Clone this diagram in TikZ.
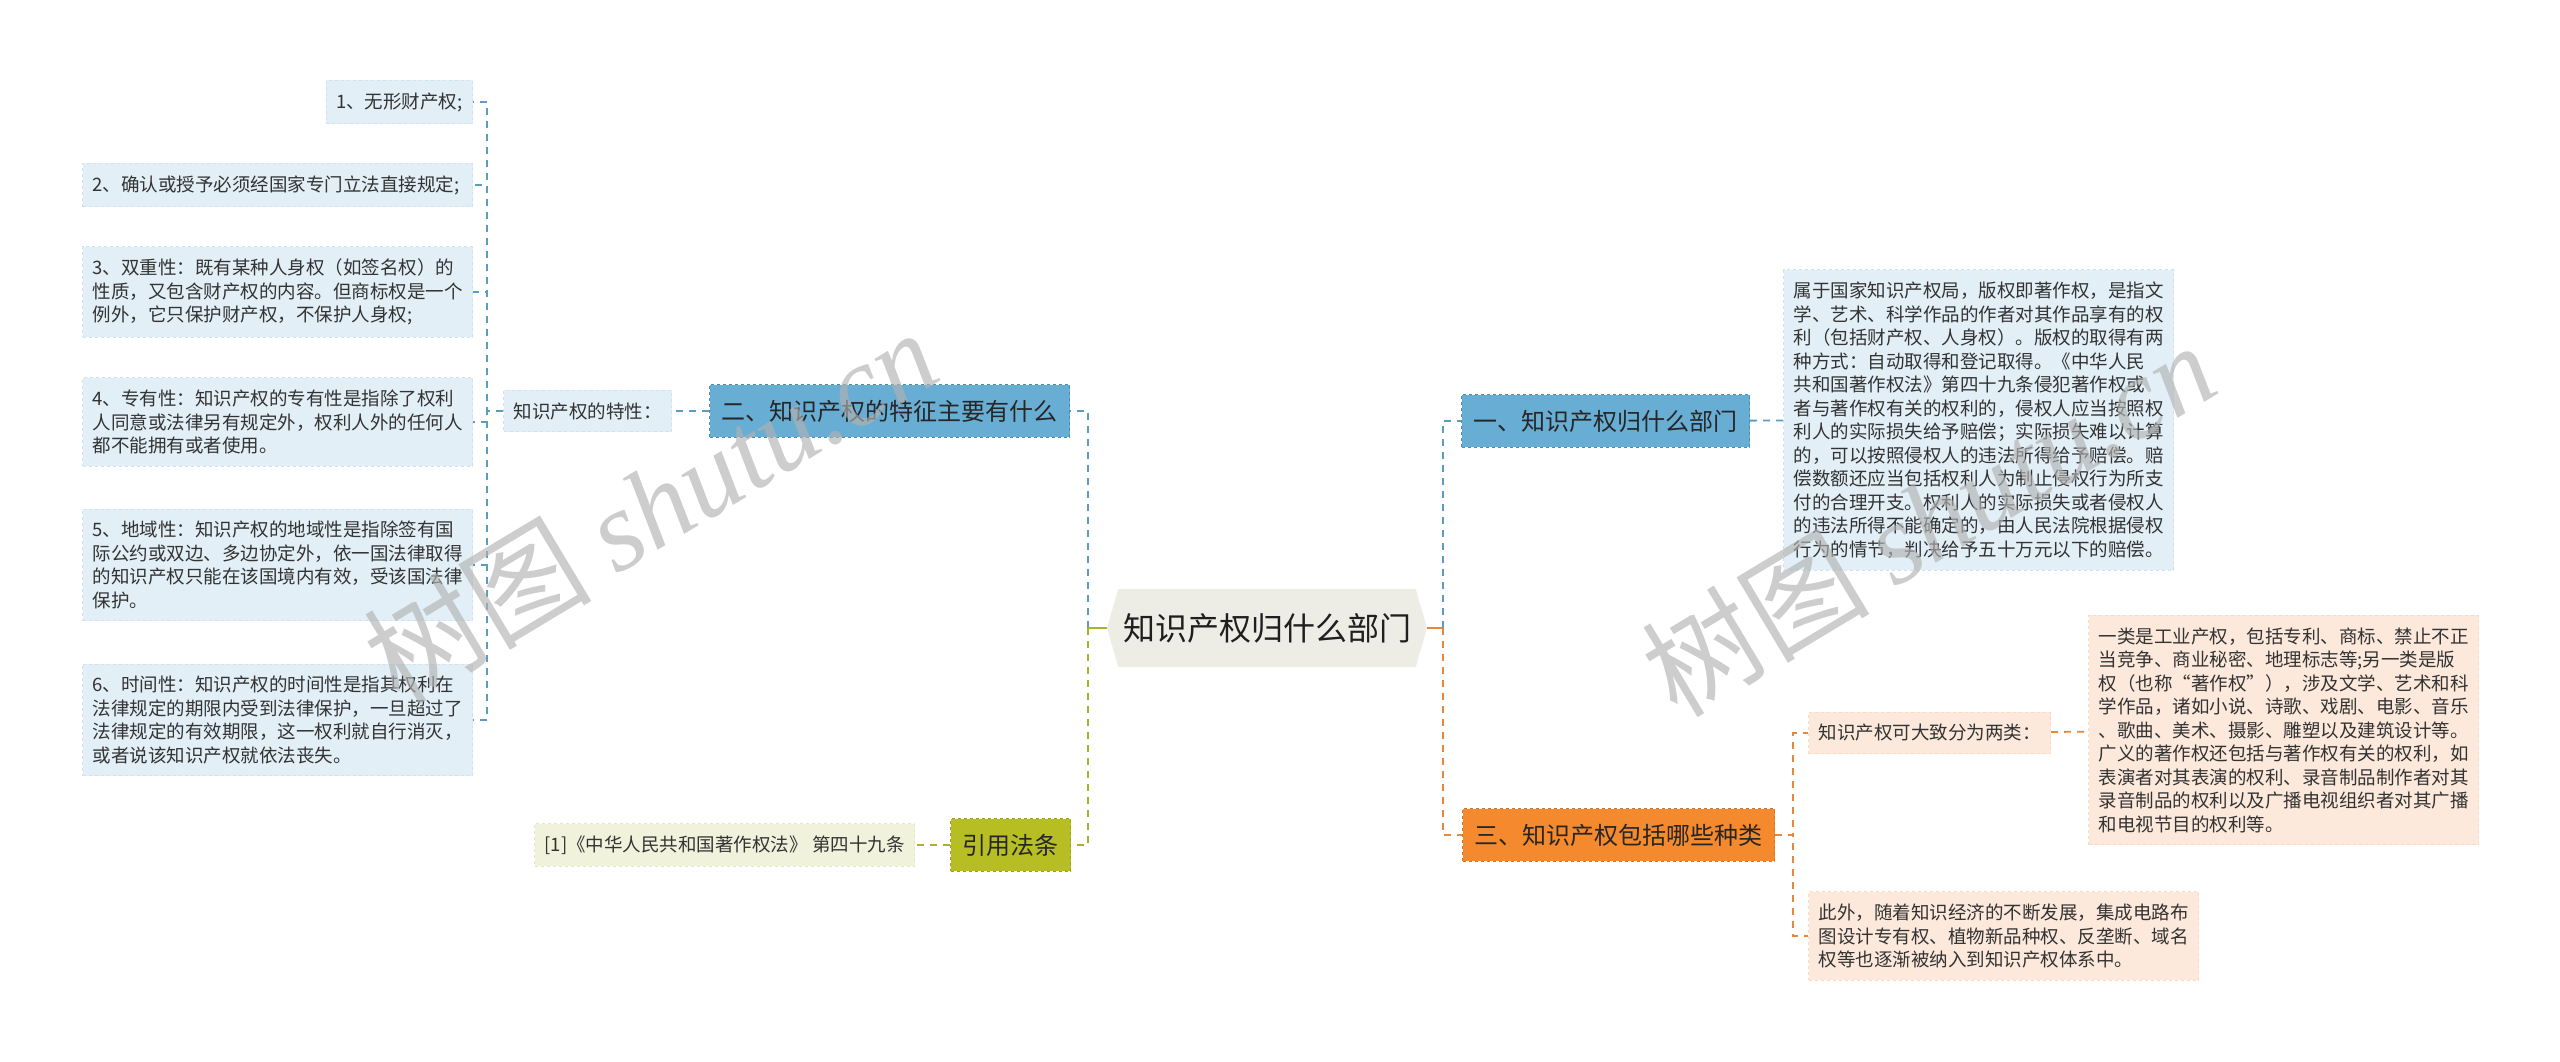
\documentclass[tikz,border=0pt]{standalone}
\usepackage{fontspec}
\setmainfont{Noto Sans CJK SC}
\newfontfamily\wmlatin{Liberation Serif}
\usetikzlibrary{positioning,shapes.symbols}

\definecolor{bluehead}{HTML}{68ADD3}
\definecolor{blueedge}{HTML}{4C8DB4}
\definecolor{blueleaf}{HTML}{E2EFF7}
\definecolor{blueline}{HTML}{5C9CBF}
\definecolor{orangehead}{HTML}{F48A2D}
\definecolor{orangeedge}{HTML}{D9741E}
\definecolor{orangeleaf}{HTML}{FCE9DB}
\definecolor{orangeline}{HTML}{E8873A}
\definecolor{olivehead}{HTML}{B7BE24}
\definecolor{oliveedge}{HTML}{9BA21A}
\definecolor{oliveleaf}{HTML}{F0F2DC}
\definecolor{oliveline}{HTML}{A8B22A}
\definecolor{rootfill}{HTML}{EEEDE5}
\definecolor{inktext}{HTML}{333333}

\tikzset{
  leafbox/.style={inner xsep=10pt,inner ysep=12pt,align=left,text=inktext,
    line width=1pt,dashed,font=\fontsize{18.5}{23.5}\selectfont},
  headbox/.style={inner xsep=12pt,inner ysep=15pt,text=black!85,
    line width=1pt,dashed,font=\fontsize{24}{28}\selectfont},
  bleaf/.style={leafbox,fill=blueleaf,draw=blueleaf!85!blueline},
  oleaf/.style={leafbox,fill=orangeleaf,draw=orangeleaf!85!orangeline},
  gleaf/.style={leafbox,fill=oliveleaf,draw=oliveleaf!85!oliveline},
  bhead/.style={headbox,fill=bluehead,draw=blueedge},
  ohead/.style={headbox,fill=orangehead,draw=orangeedge},
  ghead/.style={headbox,fill=olivehead,draw=oliveedge},
  link/.style={line width=1.8pt,dash pattern=on 7pt off 6pt},
  wmark/.style={text=gray!60,opacity=0.65,font=\fontsize{114}{124}\selectfont},
}

\begin{document}
\begin{tikzpicture}[x=1pt,y=-1pt]
\useasboundingbox (0,0) rectangle (2560,1062);

% centre
\node[signal,signal to=west and east,signal pointer angle=148,fill=rootfill,
  minimum width=320pt,minimum height=78pt,inner xsep=2pt,text=black!88,
  font=\fontsize{32}{36}\selectfont] (root) at (1267,628) {知识产权归什么部门};
\coordinate (lj) at (1088,628);
\coordinate (rj) at (1443,628);

% left side
\node[bhead,anchor=east] (n2) at (1070,411) {二、知识产权的特征主要有什么};
\node[bleaf,left=37pt of n2] (trait) {知识产权的特性：};
\node[bleaf,anchor=east] (f1) at (473,102) {1、无形财产权;};
\node[bleaf,anchor=east,text width=370pt] (f2) at (473,185) {2、确认或授予必须经国家专门立法直接规定;};
\node[bleaf,anchor=east,text width=370pt] (f3) at (473,292) {3、双重性：既有某种人身权（如签名权）的\\性质，又包含财产权的内容。但商标权是一个\\例外，它只保护财产权，不保护人身权;};
\node[bleaf,anchor=east,text width=370pt] (f4) at (473,422) {4、专有性：知识产权的专有性是指除了权利\\人同意或法律另有规定外，权利人外的任何人\\都不能拥有或者使用。};
\node[bleaf,anchor=east,text width=370pt] (f5) at (473,565) {5、地域性：知识产权的地域性是指除签有国\\际公约或双边、多边协定外，依一国法律取得\\的知识产权只能在该国境内有效，受该国法律\\保护。};
\node[bleaf,anchor=east,text width=370pt] (f6) at (473,720) {6、时间性：知识产权的时间性是指其权利在\\法律规定的期限内受到法律保护，一旦超过了\\法律规定的有效期限，这一权利就自行消灭，\\或者说该知识产权就依法丧失。};
\node[ghead,anchor=east] (cite) at (1071,845) {引用法条};
\node[gleaf,left=35pt of cite] (citeleaf) {[1]《中华人民共和国著作权法》 第四十九条};

% right side
\node[bhead,anchor=west] (n1) at (1461,421) {一、知识产权归什么部门};
\node[bleaf,anchor=west] (p1) at (1783,420) {属于国家知识产权局，版权即著作权，是指文\\学、艺术、科学作品的作者对其作品享有的权\\利（包括财产权、人身权）。版权的取得有两\\种方式：自动取得和登记取得。《中华人民\\共和国著作权法》第四十九条侵犯著作权或\\者与著作权有关的权利的，侵权人应当按照权\\利人的实际损失给予赔偿；实际损失难以计算\\的，可以按照侵权人的违法所得给予赔偿。赔\\偿数额还应当包括权利人为制止侵权行为所支\\付的合理开支。权利人的实际损失或者侵权人\\的违法所得不能确定的，由人民法院根据侵权\\行为的情节，判决给予五十万元以下的赔偿。};
\node[ohead,anchor=west] (n3) at (1462,835) {三、知识产权包括哪些种类};
\node[oleaf,anchor=west] (kinds) at (1808,733) {知识产权可大致分为两类：};
\node[oleaf,anchor=west] (bigp) at (2088,730) {一类是工业产权，包括专利、商标、禁止不正\\当竞争、商业秘密、地理标志等;另一类是版\\权（也称“著作权”），涉及文学、艺术和科\\学作品，诸如小说、诗歌、戏剧、电影、音乐\\、歌曲、美术、摄影、雕塑以及建筑设计等。\\广义的著作权还包括与著作权有关的权利，如\\表演者对其表演的权利、录音制品制作者对其\\录音制品的权利以及广播电视组织者对其广播\\和电视节目的权利等。};
\node[oleaf,anchor=west] (extra) at (1808,936) {此外，随着知识经济的不断发展，集成电路布\\图设计专有权、植物新品种权、反垄断、域名\\权等也逐渐被纳入到知识产权体系中。};

% connectors
\draw[link,blueline] (lj) |- (n2.east);
\draw[link,oliveline] (lj) |- (cite.east);
\draw[line width=2.5pt,oliveline] (root.west) -- (lj);
\draw[link,blueline] (rj) |- (n1.west);
\draw[link,orangeline] (rj) |- (n3.west);
\draw[line width=2.5pt,orangeline] (root.east) -- (rj);
\draw[link,blueline] (n2) -- (trait);
\foreach \k in {1,...,6}
  \draw[link,blueline] (trait.west) -- ++(-16pt,0) |- (f\k.east);
\draw[link,oliveline] (cite) -- (citeleaf);
\draw[link,blueline] (n1) -- (p1);
\foreach \k in {kinds,extra}
  \draw[link,orangeline] (n3.east) -- ++(18pt,0) |- (\k.west);
\draw[link,orangeline] (kinds) -- (bigp);

% watermark
\node[wmark,rotate=31] (wmleft) at (650,505) {树图 {\wmlatin\itshape shutu.cn}};
\node[wmark,rotate=31] (wmright) at (1928,518) {树图 {\wmlatin\itshape shutu.cn}};
\end{tikzpicture}
\end{document}
